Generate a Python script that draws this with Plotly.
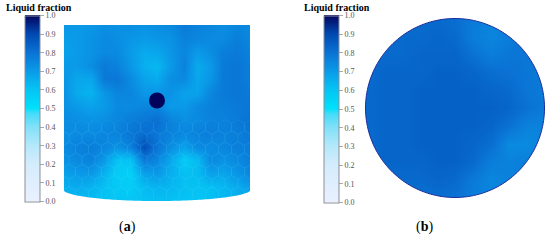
import numpy as np
import plotly.graph_objects as go

W, H = 550, 240
tick_vals = [0, .1, .2, .3, .4, .5, .6, .7, .8, .9, 1.0]
bar_title = "Liquid fraction"
scale = [[0, "#eaf0ff"], [.2, "#d4ecfc"], [.3, "#b4e8fa"], [.4, "#80e0f8"], [.47, "#45dcf8"],
         [.5, "#00e0fa"], [.6, "#05c4f4"], [.7, "#0a9ae8"], [.8, "#0a72d4"], [.9, "#0048b0"], [1, "#03035c"]]

a_x = np.linspace(-1, 1, 15)
a_y = np.linspace(1, 0, 14)
a_z = [
 [.71,.70,.71,.73,.72,.73,.72,.73,.74,.78,.76,.75,.73,.75,.74],
 [.69,.70,.72,.74,.73,.71,.70,.71,.72,.76,.75,.74,.74,.77,.75],
 [.68,.70,.72,.74,.74,.70,.66,.67,.71,.75,.70,.73,.77,.78,.76],
 [.70,.70,.73,.78,.76,.71,.65,.63,.70,.76,.66,.70,.78,.79,.77],
 [.71,.67,.67,.78,.79,.74,.68,.66,.73,.74,.67,.71,.78,.79,.77],
 [.72,.66,.64,.71,.75,.75,.71,.71,.72,.68,.68,.75,.78,.79,.78],
 [.72,.70,.68,.70,.74,.74,.75,.75,.70,.70,.74,.76,.77,.78,.79],
 [.74,.73,.72,.73,.75,.77,.79,.81,.76,.73,.74,.76,.76,.78,.80],
 [.73,.74,.74,.75,.76,.79,.81,.79,.76,.75,.76,.77,.76,.77,.79],
 [.74,.76,.77,.75,.72,.76,.88,.79,.73,.68,.74,.74,.75,.77,.77],
 [.72,.74,.76,.70,.60,.60,.78,.75,.67,.58,.62,.74,.72,.74,.77],
 [.68,.70,.70,.64,.57,.56,.68,.70,.65,.61,.62,.68,.67,.71,.75],
 [.65,.66,.64,.61,.58,.57,.62,.64,.63,.61,.60,.61,.63,.66,.69],
 [.62,.62,.62,.60,.60,.60,.61,.61,.61,.60,.60,.61,.63,.64,.66],
]

b_x = np.linspace(-1, 1, 11)
b_y = np.linspace(1, -1, 11)
b_z = [
 [.82,.82,.82,.82,.82,.81,.78,.76,.78,.80,.80],
 [.82,.82,.82,.82,.83,.82,.77,.75,.77,.80,.80],
 [.82,.82,.82,.83,.83,.83,.80,.77,.79,.79,.79],
 [.82,.83,.83,.83,.84,.84,.83,.81,.80,.79,.78],
 [.82,.83,.83,.84,.84,.84,.84,.83,.82,.79,.78],
 [.82,.83,.83,.84,.84,.84,.84,.84,.83,.80,.78],
 [.82,.83,.83,.84,.84,.84,.84,.83,.80,.76,.76],
 [.82,.83,.83,.84,.84,.84,.83,.81,.74,.74,.76],
 [.82,.83,.83,.83,.84,.84,.82,.77,.76,.77,.78],
 [.82,.82,.82,.82,.83,.82,.78,.75,.76,.78,.78],
 [.82,.82,.81,.80,.81,.80,.77,.76,.77,.78,.78],
]

sphere_xy = (0, 0.571)
sphere_color = "#03035c"
rim_color = "#1d2f9c"
hex_color = "rgba(110,225,255,0.13)"

A_L, A_R, A_T, A_B = 64, 250, 25, 201

def px_x(a, b): return [a / W, b / W]
def px_y(top, bot): return [1 - bot / H, 1 - top / H]

def cbar(x_left, thick, top, bot):
    return dict(x=x_left / W, xanchor="left", xref="paper", thickness=thick, thicknessmode="pixels",
                len=(bot - top), lenmode="pixels", y=1 - top / H, yanchor="top", yref="paper",
                ypad=0, xpad=0, outlinecolor="#8a8f98", outlinewidth=1,
                tickmode="array", tickvals=tick_vals, ticktext=[f"{v:.1f}" for v in tick_vals],
                ticks="outside", ticklen=4, tickcolor="#aaa", tickwidth=1,
                tickfont=dict(family="Liberation Serif", size=8, color="#555"))

# faint hexagonal cell outlines over the lower part of the cylinder
sx, sy = 2 / (A_R - A_L), 1 / (A_B - A_T)
hx, hy = [], []
for r in range(7):
    cy = 1 - (127 + r * 11.2 - A_T) * sy
    for c in range(-1, 16):
        cx = -1 + (5 + c * 13 + (r % 2) * 6.5) * sx
        ang = np.radians(np.arange(30, 391, 60))
        hx += list(cx + 7.5 * sx * np.cos(ang)) + [None]
        hy += list(cy + 7.5 * sy * np.sin(ang)) + [None]

fig = go.Figure()
fig.add_trace(go.Heatmap(x=a_x, y=a_y, z=a_z, zsmooth="best", coloraxis="coloraxis", xaxis="x", yaxis="y", hoverinfo="skip"))
fig.add_trace(go.Heatmap(x=b_x, y=b_y, z=b_z, zsmooth="best", coloraxis="coloraxis2", xaxis="x2", yaxis="y2", hoverinfo="skip"))
fig.add_trace(go.Scatter(x=hx, y=hy, mode="lines", xaxis="x", yaxis="y", showlegend=False,
                         line=dict(width=0.6, color=hex_color), hoverinfo="skip"))
fig.add_trace(go.Scatter(x=[sphere_xy[0]], y=[sphere_xy[1]], mode="markers", xaxis="x", yaxis="y", showlegend=False,
                         marker=dict(size=16, color=sphere_color, line=dict(width=0)), hoverinfo="skip"))

t = np.linspace(0, 2 * np.pi, 181)
circle = "M" + " L".join(f"{np.cos(v):.4f},{np.sin(v):.4f}" for v in t) + " Z"
square = "M-1.1,-1.1 L1.1,-1.1 L1.1,1.1 L-1.1,1.1 Z "
arc_x = np.linspace(-1, 1, 81)
arc_y = 0.066 * (1 - np.sqrt(1 - 0.98 * arc_x ** 2))
arc = "M-1,-0.1 L" + " L".join(f"{u:.4f},{v:.4f}" for u, v in zip(arc_x, arc_y)) + " L1,-0.1 Z"
shapes = [
    dict(type="path", xref="x", yref="y", path=arc, fillcolor="white", line=dict(width=0), layer="above"),
    dict(type="path", xref="x2", yref="y2", path=square + circle, fillcolor="white", line=dict(width=0), layer="above"),
    dict(type="path", xref="x2", yref="y2", path=circle, line=dict(width=1, color=rim_color), layer="above"),
]

def note(x, y, text, size, color="#000"):
    return dict(x=x / W, y=1 - y / H, xref="paper", yref="paper", text=text, showarrow=False,
                xanchor="center", yanchor="middle", font=dict(family="Liberation Serif", size=size, color=color))

ax_off = dict(visible=False, fixedrange=True)
r_b = 92 / 89.5
fig.update_layout(
    width=W, height=H, margin=dict(l=0, r=0, t=0, b=0), paper_bgcolor="white", plot_bgcolor="white", showlegend=False,
    xaxis=dict(domain=px_x(A_L, A_R), range=[-1, 1], **ax_off),
    yaxis=dict(domain=px_y(A_T, A_B), range=[0, 1], **ax_off),
    xaxis2=dict(domain=px_x(363, 547), range=[-r_b, r_b], **ax_off),
    yaxis2=dict(domain=px_y(16, 200), range=[-r_b, r_b], **ax_off),
    coloraxis=dict(colorscale=scale, cmin=0, cmax=1, colorbar=cbar(25, 15, 15.5, 201.5)),
    coloraxis2=dict(colorscale=scale, cmin=0, cmax=1, colorbar=cbar(324, 15, 15.5, 202)),
    shapes=shapes,
    annotations=[
        note(39, 8, f"<b>{bar_title}</b>", 10),
        note(337, 7.5, f"<b>{bar_title}</b>", 10),
        note(127, 227, "(<b>a</b>)", 14),
        note(424, 227, "(<b>b</b>)", 14),
    ],
)
fig.write_html("out.html", config=dict(displayModeBar=False),
               post_script="document.body.style.margin='0';")
